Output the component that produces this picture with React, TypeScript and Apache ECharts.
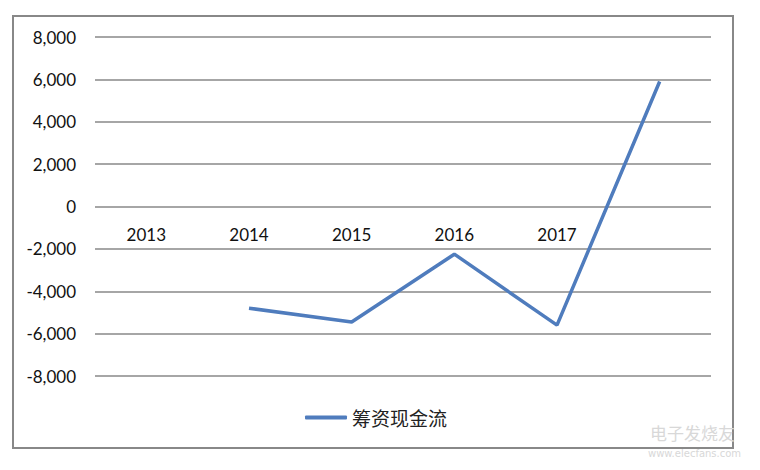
import React, { useEffect, useRef } from "react";
import * as echarts from "echarts";

const categories = ["2013", "2014", "2015", "2016", "2017", ""];
const financingCashFlow = [null, -4800, -5450, -2250, -5600, 5900];
const seriesName = "筹资现金流";
const yMin = -8000;
const yMax = 8000;
const yInterval = 2000;

export default function App() {
  const ref = useRef<HTMLDivElement>(null);
  useEffect(() => {
    if (!ref.current) return;
    const chart = echarts.init(ref.current, undefined, { renderer: "svg" });
    chart.setOption({
      animation: false,
      backgroundColor: "#ffffff",
      grid: { left: 95, right: 49, top: 37, bottom: 94 },
      legend: {
        data: [{ name: seriesName, icon: "roundRect" }],
        left: 300,
        top: 403,
        itemWidth: 42,
        itemHeight: 4,
        itemGap: 5,
        textStyle: { fontFamily: "Noto Sans CJK SC", fontSize: 19, color: "#222" },
      },
      xAxis: {
        type: "category",
        data: categories,
        boundaryGap: true,
        position: "bottom",
        offset: -169.5,
        axisLine: { show: false, onZero: false },
        axisTick: { show: false },
        axisLabel: { margin: 19, fontFamily: "Lato", fontSize: 17, color: "#111" },
        splitLine: { show: false },
      },
      yAxis: {
        type: "value",
        min: yMin,
        max: yMax,
        interval: yInterval,
        axisLine: { show: false },
        axisTick: { show: false },
        axisLabel: {
          margin: 19,
          fontFamily: "Lato",
          fontSize: 17,
          color: "#111",
          formatter: (v: number) => v.toLocaleString("en-US"),
        },
        splitLine: { lineStyle: { color: "#888", width: 1.5 } },
      },
      series: [
        {
          name: seriesName,
          type: "line",
          data: financingCashFlow,
          symbol: "none",
          connectNulls: false,
          lineStyle: { color: "#4F7CBD", width: 3.5 },
          itemStyle: { color: "#4F7CBD" },
        },
      ],
      graphic: [
        {
          type: "rect",
          shape: { x: 13, y: 16, width: 720, height: 432 },
          style: { fill: "none", stroke: "#888", lineWidth: 2 },
          silent: true,
        },
        {
          type: "text",
          x: 650,
          y: 424,
          style: {
            text: "电子发烧友",
            fontFamily: "Noto Sans CJK SC",
            fontSize: 17,
            fill: "#d8d8d8",
          },
          silent: true,
        },
        {
          type: "text",
          x: 648,
          y: 448,
          style: {
            text: "www.elecfans.com",
            fontFamily: "DejaVu Sans",
            fontSize: 10,
            fill: "#d8d8d8",
          },
          silent: true,
        },
      ],
    });
    return () => chart.dispose();
  }, []);
  return (
    <div
      ref={ref}
      style={{ position: "fixed", left: 0, top: 0, width: 760, height: 470 }}
    />
  );
}
